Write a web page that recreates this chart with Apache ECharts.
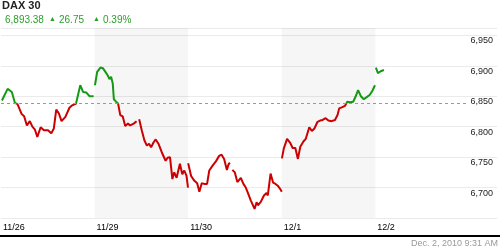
<!DOCTYPE html>
<html><head><meta charset="utf-8">
<script src="https://cdn.jsdelivr.net/npm/echarts@6/dist/echarts.min.js"></script>
<style>html,body{margin:0;padding:0;background:#fff}#c{width:500px;height:250px}</style>
</head><body><div id="c"></div>
<script>
const title = 'DAX 30';
const lastValue = '6,893.38';
const change = '26.75';
const changePct = '0.39%';
const stamp = 'Dec. 2, 2010 9:31 AM';
const dayLabels = ['11/26', '11/29', '11/30', '12/1', '12/2'];
const refLine = 6838;
const yTicks = [6700, 6750, 6800, 6850, 6900, 6950];

const day0Times = ['9:05','9:36','9:59','10:09','10:16','10:30','10:39','10:52','11:06','11:21','11:37','11:51','12:05','12:18','12:36','12:54','13:16','13:34','13:48','14:01','14:15','14:30','14:51','15:13','15:28','15:49','16:12','16:27','16:45','17:03','17:25'];
const day0Vals = [6843,6862,6857,6854,6839,6837,6839,6821,6817,6802,6809,6800,6795,6783,6799,6794,6794,6789,6797,6828,6822,6809,6816,6831,6835,6838,6868,6857,6856,6850,6850];

const day1Times = ['9:02','9:14','9:32','9:45','9:59','10:12','10:21','10:30','10:39','10:45','10:57','11:08','11:20','11:33','11:47','12:02','12:14','12:33','12:49','12:56','13:03','13:17','13:32','13:45','13:57','14:08','14:21','14:33','14:48','15:06','15:27','15:38','15:51','16:04','16:14','16:27','16:45','16:58','17:09','17:21','17:29'];
const day1Vals = [6868,6890,6897,6896,6890,6884,6878,6882,6871,6845,6841,6838,6819,6817,6801,6805,6802,6805,6809,null,6812,6794,6777,6769,6772,6766,6774,6779,6772,6758,6744,6749,6750,6714,6725,6716,6739,6722,6728,6719,6700];

const day2Times = ['9:00','9:16','9:34','9:49','10:01','10:14','10:28','10:43','10:55','11:13','11:31','11:49','12:02','12:16','12:31','12:40','12:47','12:54','13:01','13:14','13:28','13:37','13:47','14:01','14:14','14:26','14:41','14:50','15:02','15:13','15:20','15:35','15:53','16:07','16:14','16:29','16:43','16:56','17:08','17:23','17:30'];
const day2Vals = [6740,6719,6711,6707,6693,6707,6706,6706,6728,6736,6743,6752,6754,6747,6729,6738,6741,null,6729,6725,6709,6711,6716,6706,6700,6691,6679,6676,6665,6676,6671,6676,6687,6691,6687,6723,6708,6706,6703,6697,6693];

const day3Times = ['9:01','9:11','9:29','9:47','9:59','10:14','10:28','10:41','10:59','11:11','11:30','11:44','11:58','12:15','12:29','12:43','12:59','13:14','13:32','13:50','14:04','14:13','14:30','14:44','14:57','15:11','15:29','15:42','15:56','16:11','16:27','16:41','16:59','17:14','17:28'];
const day3Vals = [6748,6764,6780,6773,6765,6765,6747,6767,6776,6780,6799,6793,6797,6808,6810,6811,6814,6810,6809,6811,6819,6830,6832,6834,6841,6840,6841,6849,6860,6850,6845,6848,6852,6859,6868];

const day4Times = ['9:03','9:14','9:29','9:47'];
const day4Vals = [6897,6888,6891,6893];

const days = [[day0Times, day0Vals],[day1Times, day1Vals],[day2Times, day2Vals],[day3Times, day3Vals],[day4Times, day4Vals]];
const OPEN = 540, SESSION = 510;
const data = [];
days.forEach(([t, v], i) => {
  t.forEach((s, k) => {
    const [h, m] = s.split(':').map(Number);
    const x = i + (h * 60 + m - OPEN) / SESSION;
    data.push([x, v[k] == null ? '-' : v[k]]);
  });
  data.push([i + 1, '-']);
});

const GREEN = '#149914', RED = '#cc0000', HDR_GREEN = '#2a9f2a';
const FONT = '"Liberation Sans", Arial, sans-serif';
const chart = echarts.init(document.getElementById('c'), null, {renderer: 'canvas'});
chart.setOption({
  animation: false,
  grid: {left: 0, right: 0, top: 28, bottom: 32},
  xAxis: {
    type: 'value', min: 0, max: 5.3, interval: 1,
    axisLine: {show: false}, axisTick: {show: false}, splitLine: {show: false},
    axisLabel: {
      align: 'left', margin: 5, fontSize: 9, color: '#000', fontFamily: FONT,
      padding: [0, 0, 0, 2],
      formatter: v => (Number.isInteger(v) && v < dayLabels.length) ? dayLabels[v] : ''
    }
  },
  yAxis: {
    type: 'value', position: 'right', min: 6650, max: 6962, interval: 50,
    axisLine: {show: false}, axisTick: {show: false},
    splitLine: {lineStyle: {color: '#ebebeb', width: 1}},
    axisLabel: {
      inside: true, margin: 4, fontSize: 9, color: '#222', fontFamily: FONT,
      verticalAlign: 'top', padding: [1, 0, 0, 0],
      formatter: v => yTicks.includes(v) ? v.toLocaleString('en-US') : ''
    }
  },
  visualMap: {
    type: 'piecewise', show: false, dimension: 1, seriesIndex: 0,
    pieces: [{gt: refLine, lte: 7100, color: GREEN}, {gte: 6500, lte: refLine, color: RED}]
  },
  series: [{
    type: 'line', data: data, showSymbol: false, connectNulls: false,
    lineStyle: {width: 2}, silent: true,
    markArea: {
      silent: true,
      itemStyle: {color: 'rgba(0,0,0,0.035)'},
      data: [[{xAxis: 1}, {xAxis: 2}], [{xAxis: 3}, {xAxis: 4}]]
    },
    markLine: {
      silent: true, symbol: 'none', label: {show: false},
      lineStyle: {color: '#999', type: [3, 3], width: 1},
      data: [[{coord: [0, refLine]}, {coord: [4.98, refLine]}]]
    }
  }],
  graphic: [
    {type: 'text', left: 2, top: 0, style: {text: title, font: 'bold 11px ' + FONT, fill: '#222'}},
    {type: 'text', left: 5, top: 15, style: {text: lastValue, font: '10px ' + FONT, fill: HDR_GREEN}},
    {type: 'text', left: 49, top: 16, style: {text: '▲', font: '7px ' + FONT, fill: HDR_GREEN}},
    {type: 'text', left: 59, top: 15, style: {text: change, font: '10px ' + FONT, fill: HDR_GREEN}},
    {type: 'text', left: 93, top: 16, style: {text: '▲', font: '7px ' + FONT, fill: HDR_GREEN}},
    {type: 'text', left: 103, top: 15, style: {text: changePct, font: '10px ' + FONT, fill: HDR_GREEN}},
    {type: 'rect', left: 0, top: 235, shape: {width: 500, height: 2}, style: {fill: '#000'}},
    {type: 'text', right: 2, top: 239, style: {text: stamp, font: '9px ' + FONT, fill: '#999'}}
  ]
});
</script></body></html>
